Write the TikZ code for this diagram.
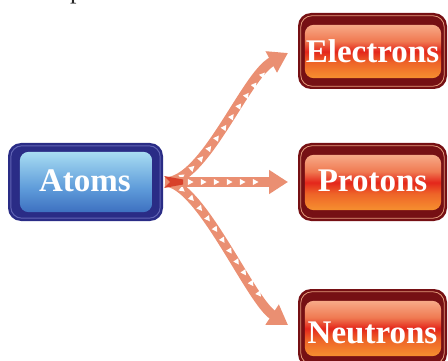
\documentclass[tikz,border=0pt]{standalone}
\usepackage{fontspec}
\setmainfont{Liberation Serif}
\usetikzlibrary{arrows.meta,decorations.markings}
\definecolor{boxmaroon}{HTML}{761014}
\definecolor{rimred}{HTML}{E39A7A}
\definecolor{redtop}{HTML}{F7AA88}
\definecolor{redup}{HTML}{F07A52}
\definecolor{redmid}{HTML}{E4261B}
\definecolor{redlow}{HTML}{EE6428}
\definecolor{redbot}{HTML}{F6902F}
\definecolor{navy}{HTML}{2A2C86}
\definecolor{navyrim}{HTML}{6064B4}
\definecolor{bluetop}{HTML}{A8DCF2}
\definecolor{bluemid}{HTML}{5F9CDA}
\definecolor{bluebot}{HTML}{3D70C0}
\definecolor{arrowsalmon}{HTML}{EA8F72}
\definecolor{starttip}{HTML}{D8402A}
\pgfdeclareverticalshading{redgrad}{100bp}{color(0bp)=(redbot); color(25bp)=(redbot); color(40bp)=(redlow); color(50bp)=(redmid); color(60bp)=(redup); color(75bp)=(redtop); color(100bp)=(redtop)}
\pgfdeclareverticalshading{bluegrad}{100bp}{color(0bp)=(bluebot); color(25bp)=(bluebot); color(45bp)=(bluemid); color(75bp)=(bluetop); color(100bp)=(bluetop)}
\tikzset{
  redbox/.style={fill=boxmaroon, rounded corners=13pt, inner sep=0pt, minimum width=149pt},
  bluebox/.style={fill=navy, rounded corners=13pt, inner sep=0pt, minimum width=155pt, minimum height=78pt},
  redinner/.style={shading=redgrad, rounded corners=9pt},
  blueinner/.style={shading=bluegrad, rounded corners=9pt},
  label/.style={text=white, font=\bfseries\fontsize{33}{33}\selectfont, inner sep=0pt, anchor=base},
  flow/.style={draw=arrowsalmon, line width=9.5pt, -{Triangle[length=19pt,width=23pt]},
    decoration={markings, mark=between positions 0.1 and 0.84 step 13pt with
      {\fill[white] (3pt,0pt) -- (-2.5pt,3pt) -- (-2.5pt,-3pt) -- cycle;}},
    postaction=decorate}
}
\begin{document}
\begin{tikzpicture}[x=1pt,y=-1pt]
\useasboundingbox (0,0) rectangle (448,361);
% partial text at top
\node[anchor=base west, inner sep=0pt, text=black!85, font=\fontsize{26}{26}\selectfont] (ptext) at (70,-1) {p};
% Atoms box
\node[bluebox] (atoms) at (85.5,182) {};
\draw[navyrim, line width=1pt, rounded corners=11pt] ([shift={(3pt,-3pt)}]atoms.north west) rectangle ([shift={(-3pt,3pt)}]atoms.south east);
\shade[blueinner] ([shift={(12pt,-9pt)}]atoms.north west) rectangle ([shift={(-11pt,9pt)}]atoms.south east);
\node[label] (atomst) at (85,192) {Atoms};
% Red boxes
\node[redbox, minimum height=76pt] (el) at (372.5,51) {};
\node[redbox, minimum height=78pt] (pr) at (372.5,182) {};
\node[redbox, minimum height=78pt] (ne) at (372.5,328) {};
\foreach \b in {el,pr,ne}{
  \draw[rimred, line width=0.8pt, rounded corners=11pt] ([shift={(3pt,-3pt)}]\b.north west) rectangle ([shift={(-3pt,3pt)}]\b.south east);
  \shade[redinner] ([shift={(7pt,-12pt)}]\b.north west) rectangle ([shift={(-6pt,11pt)}]\b.south east);
}
\node[label] (elt) at (372.5,63) {Electrons};
\node[label] (prt) at (372.5,192) {Protons};
\node[label] (net) at (372.5,343) {Neutrons};
% Arrows
\coordinate (start) at ([xshift=2pt]atoms.east);
\coordinate (etip) at (288,53);
\coordinate (ptip) at (288,182);
\coordinate (ntip) at (288,325);
\draw[flow] (start) .. controls (205,182) and (245,76) .. (etip);
\draw[flow] (start) .. controls (200,182) and (250,300) .. (ntip);
\draw[flow] (start) -- (ptip);
\fill[starttip] (164,176) -- (183,179.5) -- (183,184.5) -- (164,188) -- (170,182) -- cycle;
\end{tikzpicture}
\end{document}
